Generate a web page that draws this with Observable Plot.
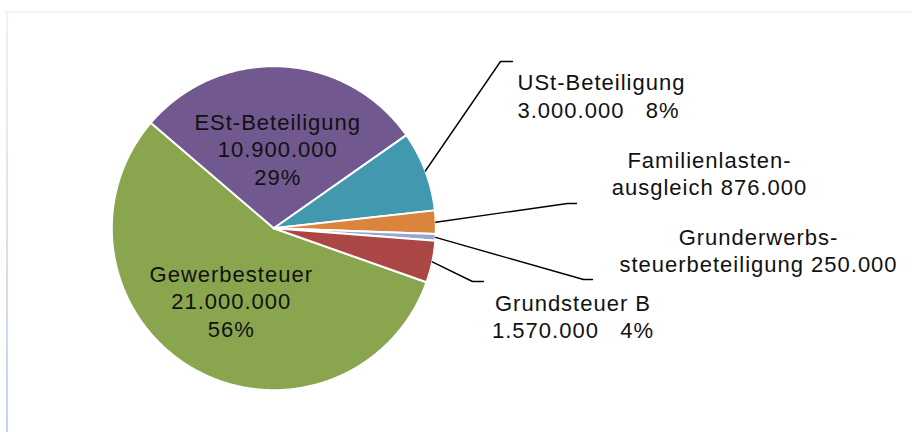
<!DOCTYPE html>
<html>
<head>
<meta charset="utf-8">
<script src="https://cdn.jsdelivr.net/npm/d3@7"></script>
<script src="https://cdn.jsdelivr.net/npm/@observablehq/plot@0.6"></script>
<style>
  html, body { margin: 0; padding: 0; background: #fff; }
  #wrap { position: relative; width: 912px; height: 432px; overflow: hidden; }
  #frameTop { position: absolute; left: 5px; top: 11px; width: 907px; height: 2px; background: #eef3fa; }
  #frameLeft { position: absolute; left: 6px; top: 11px; width: 2px; height: 421px;
    background: linear-gradient(to bottom, #eef2f8, #c3d3ea); }
  #chart { position: absolute; left: 0; top: 0; }
  #chart text { white-space: pre; }
</style>
</head>
<body>
<div id="wrap">
  <div id="frameTop"></div>
  <div id="frameLeft"></div>
  <div id="chart"></div>
</div>
<script>
// ---- data ----
const categories = ["Gewerbesteuer", "ESt-Beteiligung", "USt-Beteiligung", "Familienlasten-\nausgleich", "Grunderwerbs-\nsteuerbeteiligung", "Grundsteuer B"];
const values = [21000000, 10900000, 3000000, 876000, 250000, 1570000];
const showPercent = [true, true, true, false, false, true];
const colors = ["#89A54E", "#71588F", "#4198AF", "#DB843D", "#93A9CF", "#AA4643"];

// ---- layout (pixel space of the 912x432 svg) ----
const cx = 273.3, cy = 227.7, R = 162;
const startDeg = 109.5;              // first slice starts here (clockwise from 12 o'clock)
// label placement: inside labels at a fraction of the radius, outside labels with leader lines
const labelLayout = [
  {inside: 0.5, dx: -2, dy: 2},
  {inside: 0.5, dx: 0, dy: 1},
  {x: 517, y: 94.5, anchor: "start", elbow: [500, 61], end: [512, 61]},
  {x: 709, y: 172, anchor: "middle", elbow: [567, 203], end: [576, 203]},
  {x: 758, y: 249, anchor: "middle", elbow: [583, 279], end: [592, 279]},
  {x: 572.5, y: 315, anchor: "middle", elbow: [472, 281], end: [483, 281]}
];

const de = d3.formatLocale({decimal: ",", thousands: ".", grouping: [3], currency: ["", " €"]});
const fmt = de.format(",d");
const total = d3.sum(values);

const pie = d3.pie().sort(null).startAngle(startDeg * Math.PI / 180)
  .endAngle(startDeg * Math.PI / 180 + 2 * Math.PI)(values);

const px = a => cx + R * Math.sin(a);
const py = a => cy - R * Math.cos(a);

// slice polygons
const slicePts = [];
pie.forEach((p, i) => {
  const name = categories[i];
  slicePts.push({name, x: cx, y: cy, color: colors[i]});
  const n = Math.max(2, Math.ceil((p.endAngle - p.startAngle) / (0.4 * Math.PI / 180)));
  for (let k = 0; k <= n; k++) {
    const a = p.startAngle + (p.endAngle - p.startAngle) * k / n;
    slicePts.push({name, x: px(a), y: py(a), color: colors[i]});
  }
  slicePts.push({name, x: cx, y: cy, color: colors[i]});
});

// labels
const labelsMid = [], labelsStart = [], leaders = [];
pie.forEach((p, i) => {
  const L = labelLayout[i];
  const pct = Math.round(values[i] / total * 100) + "%";
  let text;
  if (L.inside) {
    text = categories[i] + "\n" + fmt(values[i]) + "\n" + pct;
  } else if (showPercent[i]) {
    text = categories[i] + "\n" + fmt(values[i]) + "   " + pct;
  } else {
    text = categories[i] + " " + fmt(values[i]);
  }
  const mid = (p.startAngle + p.endAngle) / 2;
  if (L.inside) {
    labelsMid.push({text, x: cx + L.inside * R * Math.sin(mid) + L.dx, y: cy - L.inside * R * Math.cos(mid) + L.dy});
  } else {
    (L.anchor === "start" ? labelsStart : labelsMid).push({text, x: L.x, y: L.y});
    leaders.push({name: categories[i], x: px(mid), y: py(mid)});
    leaders.push({name: categories[i], x: L.elbow[0], y: L.elbow[1]});
    leaders.push({name: categories[i], x: L.end[0], y: L.end[1]});
  }
});

const font = "'Liberation Sans', Arial, sans-serif";
const textOpts = {x: "x", y: "y", text: "text", fontSize: 22, lineHeight: 1.25, fill: "#111111", fontFamily: font};

const chart = Plot.plot({
  width: 912, height: 432, margin: 0,
  style: {background: "transparent", letterSpacing: "1px", fontFamily: font},
  x: {domain: [0, 912], range: [0, 912], axis: null},
  y: {domain: [0, 432], range: [0, 432], axis: null},
  color: {type: "identity"},
  marks: [
    Plot.line(slicePts, {x: "x", y: "y", z: "name", fill: "color", stroke: "#ffffff", strokeWidth: 2, strokeLinejoin: "round", curve: "linear"}),
    Plot.line(leaders, {x: "x", y: "y", z: "name", stroke: "#000000", strokeWidth: 1.4, curve: "linear"}),
    Plot.text(labelsMid, {...textOpts, textAnchor: "middle"}),
    Plot.text(labelsStart, {...textOpts, textAnchor: "start"})
  ]
});
document.getElementById("chart").appendChild(chart);
</script>
</body>
</html>
